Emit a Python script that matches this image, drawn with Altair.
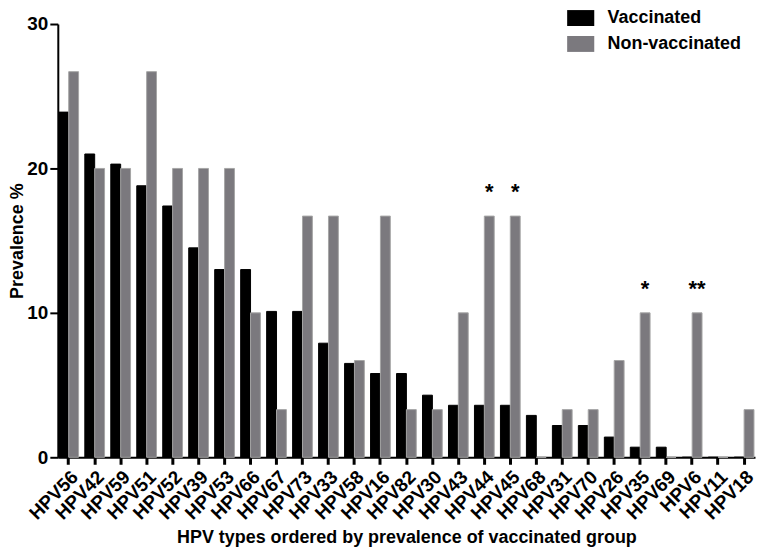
import altair as alt
import pandas as pd

hpv_types = ["HPV56", "HPV42", "HPV59", "HPV51", "HPV52", "HPV39", "HPV53", "HPV66",
             "HPV67", "HPV73", "HPV33", "HPV58", "HPV16", "HPV82", "HPV30", "HPV43",
             "HPV44", "HPV45", "HPV68", "HPV31", "HPV70", "HPV26", "HPV35", "HPV69",
             "HPV6", "HPV11", "HPV18"]
vaccinated = [23.9, 21.0, 20.3, 18.8, 17.4, 14.5, 13.0, 13.0, 10.1, 10.1, 7.9, 6.5,
              5.8, 5.8, 4.3, 3.6, 3.6, 3.6, 2.9, 2.2, 2.2, 1.4, 0.7, 0.7, 0.0, 0.0, 0.0]
non_vaccinated = [26.7, 20.0, 20.0, 26.7, 20.0, 20.0, 20.0, 10.0, 3.3, 16.7, 16.7, 6.7,
                  16.7, 3.3, 3.3, 10.0, 16.7, 16.7, 0.0, 3.3, 3.3, 6.7, 10.0, 0.0,
                  10.0, 0.0, 3.3]
groups = ["Vaccinated", "Non-vaccinated"]

sig_types = ["HPV44", "HPV45", "HPV35", "HPV6"]
sig_marks = ["*", "*", "*", "**"]

rows = []
for t, v, n in zip(hpv_types, vaccinated, non_vaccinated):
    rows.append({"type": t, "group": groups[0], "value": v})
    rows.append({"type": t, "group": groups[1], "value": n})
df = pd.DataFrame(rows)

ann = pd.DataFrame({
    "type": sig_types,
    "mark": sig_marks,
    "group": groups[1],
    "value": [non_vaccinated[hpv_types.index(t)] for t in sig_types],
})

FONT = "Liberation Sans"

x_axis = alt.Axis(title="HPV types ordered by prevalence of vaccinated group",
                  labelAngle=-45, labelAlign="right", labelBaseline="top",
                  labelPadding=3, tickWidth=3, tickSize=7, titlePadding=6,
                  labelFontSize=19)
y_axis = alt.Axis(title="Prevalence %", values=[0, 10, 20, 30], grid=False,
                  labelPadding=2, tickWidth=2, tickSize=8, titlePadding=0,
                  labelFontSize=19)

bars = alt.Chart(df).mark_bar(strokeWidth=1).encode(
    x=alt.X("type:N", sort=hpv_types,
            scale=alt.Scale(paddingInner=0.24, paddingOuter=0.04),
            axis=x_axis),
    xOffset=alt.XOffset("group:N", sort=groups, scale=alt.Scale(domain=groups)),
    y=alt.Y("value:Q", scale=alt.Scale(domain=[0, 30], nice=False), axis=y_axis),
    color=alt.Color("group:N", sort=groups,
                    scale=alt.Scale(domain=groups, range=["#000000", "#7b797e"]),
                    legend=alt.Legend(title=None, orient="none", legendX=516, legendY=-15,
                                      symbolType="M-1.7,-1H1.7V1H-1.7Z", symbolSize=256,
                                      symbolStrokeWidth=0, symbolOpacity=1,
                                      labelFont=FONT, labelFontSize=18,
                                      labelFontWeight="bold", labelColor="black",
                                      labelOffset=18, rowPadding=8, padding=0)),
    stroke=alt.Stroke("group:N", sort=groups,
                      scale=alt.Scale(domain=groups, range=["#000000", "#a5a5a5"]),
                      legend=None),
)

stars = alt.Chart(ann).mark_text(font=FONT, fontSize=22, fontWeight="bold",
                                 baseline="alphabetic", dy=-17, color="black").encode(
    x=alt.X("type:N", sort=hpv_types, axis=x_axis),
    xOffset=alt.XOffset("group:N", sort=groups),
    y=alt.Y("value:Q", axis=y_axis),
    text="mark:N",
)

chart = alt.layer(bars, stars).properties(
    width=700, height=435, padding=0
).configure_view(stroke=None).configure_axis(
    labelFont=FONT, labelFontWeight="bold", labelColor="black",
    tickColor="black", domainColor="black", domainWidth=2,
    titleFont=FONT, titleFontSize=18, titleFontWeight="bold", titleColor="black",
)

chart.save("out.html", embed_options={"renderer": "svg", "actions": False})
